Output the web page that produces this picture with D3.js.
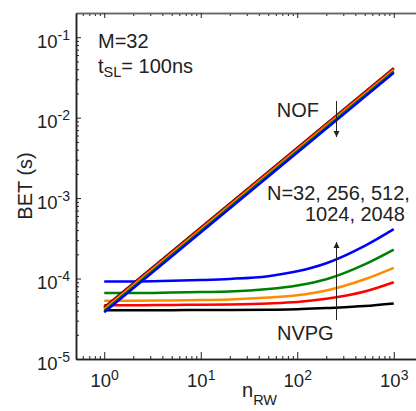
<!DOCTYPE html>
<html>
<head>
<meta charset="utf-8">
<script src="https://cdn.jsdelivr.net/npm/d3@7"></script>
<style>
  body { margin: 0; background: #fff; }
  svg text { font-family: "Liberation Sans", Arial, sans-serif; fill: #222; }
</style>
</head>
<body>
<div id="chart"></div>
<script>

var nList = ["32", "256", "512", "1024", "2048"];
var colors = ["#000000", "#ff0000", "#ff8c00", "#008000", "#0000ff"];

var nRW = [1, 2, 5, 10, 20, 50, 100, 200, 500, 1000];
var nvpg32   = [4.05e-5, 4.05e-5, 4.05e-5, 4.06e-5, 4.07e-5, 4.1e-5, 4.15e-5, 4.3e-5, 4.55e-5, 4.9e-5];
var nvpg256  = [4.65e-5, 4.65e-5, 4.7e-5, 4.72e-5, 4.77e-5, 4.9e-5, 5.1e-5, 5.6e-5, 6.9e-5, 9.0e-5];
var nvpg512  = [5.3e-5, 5.3e-5, 5.35e-5, 5.4e-5, 5.5e-5, 5.8e-5, 6.2e-5, 7.1e-5, 9.8e-5, 1.36e-4];
var nvpg1024 = [6.6e-5, 6.6e-5, 6.7e-5, 6.8e-5, 6.9e-5, 7.4e-5, 8.2e-5, 9.8e-5, 1.5e-4, 2.29e-4];
var nvpg2048 = [9.2e-5, 9.2e-5, 9.4e-5, 9.6e-5, 9.9e-5, 1.07e-4, 1.23e-4, 1.55e-4, 2.55e-4, 4.12e-4];

var nofRW = [1, 1000];
var nof32   = [4.36e-5, 0.0413];
var nof256  = [4.28e-5, 0.0405];
var nof512  = [4.12e-5, 0.0390];
var nof1024 = [3.96e-5, 0.0375];
var nof2048 = [3.80e-5, 0.0360];

var xMajor = [1, 10, 100, 1000];
var yMajor = [1e-5, 1e-4, 1e-3, 1e-2, 1e-1];

var nvpg = [nvpg32, nvpg256, nvpg512, nvpg1024, nvpg2048];
var nof = [nof32, nof256, nof512, nof1024, nof2048];

var W = 416, H = 411;
var margin = {left: 76, top: 13, bottom: 359, right: 416};

var x = d3.scaleLog().domain([0.51, 1700]).range([margin.left, margin.right]);
var y = d3.scaleLog().domain([1e-5, 0.2]).range([margin.bottom, margin.top]);

function minors(lo, hi) {
  var out = [];
  for (var e = lo; e <= hi; e++) {
    for (var k = 2; k <= 9; k++) out.push(k * Math.pow(10, e));
  }
  return out;
}
var xMinor = minors(-1, 3).filter(function(v){ return v > 0.51 && v < 1700; });
var yMinor = minors(-5, -1).filter(function(v){ return v < 0.2; });

var svg = d3.select("#chart").append("svg")
    .attr("width", W)
    .attr("height", H);

svg.append("rect").attr("width", W).attr("height", H).attr("fill", "#fff");

// axes
function styleAxis(g) {
  g.select(".domain").attr("stroke", "#222").attr("stroke-width", 1.5);
  g.selectAll(".tick line").attr("stroke", "#222").attr("stroke-width", 1);
}

var xAxisMinor = svg.append("g")
    .attr("transform", "translate(0," + margin.bottom + ")")
    .call(d3.axisBottom(x).tickValues(xMinor).tickSize(-3).tickSizeOuter(0).tickFormat(""));
styleAxis(xAxisMinor);

var xAxis = svg.append("g")
    .attr("transform", "translate(0," + margin.bottom + ")")
    .call(d3.axisBottom(x).tickValues(xMajor).tickSize(-7).tickSizeOuter(0));
styleAxis(xAxis);

xAxis.selectAll(".tick text").each(function(d) {
  var t = d3.select(this).text(null)
      .attr("y", 28).attr("dy", null)
      .attr("font-size", 18.5)
      .attr("text-anchor", "middle");
  t.append("tspan").text("10");
  t.append("tspan").attr("dy", -7).attr("font-size", 14).text(Math.round(Math.log10(d)));
});

var topMinor = svg.append("g")
    .attr("transform", "translate(0," + margin.top + ")")
    .call(d3.axisTop(x).tickValues(xMinor).tickSize(-3).tickSizeOuter(0).tickFormat(""));
styleAxis(topMinor);
topMinor.select(".domain").attr("stroke", "#666");

var topMajor = svg.append("g")
    .attr("transform", "translate(0," + margin.top + ")")
    .call(d3.axisTop(x).tickValues(xMajor).tickSize(-5).tickSizeOuter(0).tickFormat(""));
styleAxis(topMajor);
topMajor.select(".domain").attr("stroke", "#666");

var yAxisMinor = svg.append("g")
    .attr("transform", "translate(" + margin.left + ",0)")
    .call(d3.axisLeft(y).tickValues(yMinor).tickSize(-3).tickSizeOuter(0).tickFormat(""));
styleAxis(yAxisMinor);

var yAxis = svg.append("g")
    .attr("transform", "translate(" + margin.left + ",0)")
    .call(d3.axisLeft(y).tickValues(yMajor).tickSize(-5).tickSizeOuter(0));
styleAxis(yAxis);

yAxis.selectAll(".tick text").each(function(d) {
  var t = d3.select(this).text(null)
      .attr("x", -6).attr("dy", 10)
      .attr("font-size", 18.5)
      .attr("text-anchor", "end");
  t.append("tspan").text("10");
  t.append("tspan").attr("dy", -8).attr("font-size", 14).text(Math.round(Math.log10(d)));
});

// curves
var line = d3.line()
    .x(function(d) { return x(d[0]); })
    .y(function(d) { return y(d[1]); })
    .curve(d3.curveMonotoneX);

nvpg.forEach(function(s, i) {
  svg.append("path")
    .datum(nRW.map(function(n, j) { return [n, s[j]]; }))
    .attr("d", line)
    .attr("fill", "none")
    .attr("stroke", colors[i])
    .attr("stroke-width", 2.5);
});

nof.forEach(function(s, i) {
  svg.append("path")
    .datum(nofRW.map(function(n, j) { return [n, s[j]]; }))
    .attr("d", line)
    .attr("fill", "none")
    .attr("stroke", colors[i])
    .attr("stroke-width", 2.5);
});

// arrows
svg.append("defs").append("marker")
    .attr("id", "head")
    .attr("viewBox", "0 0 10 10")
    .attr("refX", 10).attr("refY", 5)
    .attr("markerWidth", 6).attr("markerHeight", 7)
    .attr("markerUnits", "userSpaceOnUse")
    .attr("orient", "auto")
  .append("path")
    .attr("d", "M0,0L10,5L0,10Z")
    .attr("fill", "#222");

var ax = Math.round(x(250)) + 0.5;
svg.append("line")
    .attr("x1", ax).attr("x2", ax)
    .attr("y1", 101).attr("y2", 137)
    .attr("stroke", "#222").attr("stroke-width", 1)
    .attr("marker-end", "url(#head)");
svg.append("line")
    .attr("x1", ax).attr("x2", ax)
    .attr("y1", 320).attr("y2", 242)
    .attr("stroke", "#222").attr("stroke-width", 1)
    .attr("marker-end", "url(#head)");

// annotations
function label(txt, px, py, anchor) {
  return svg.append("text")
    .attr("x", px).attr("y", py)
    .attr("font-size", 20)
    .attr("text-anchor", anchor || "start")
    .text(txt);
}
label("M=32", 98, 48);
var ts = label("", 98, 73);
ts.append("tspan").text("t");
ts.append("tspan").attr("dy", 4).attr("font-size", 14.5).text("SL");
ts.append("tspan").attr("dy", -4).text("= 100ns");

label("NOF", 319, 117, "end");
label("N=32, 256, 512,", 267, 200);
label("1024, 2048", 405, 221, "end");
label("NVPG", 277, 340);

var xt = label("", 242, 397);
xt.append("tspan").text("n");
xt.append("tspan").attr("dy", 8).attr("font-size", 14.5).text("RW");

svg.append("text")
    .attr("transform", "translate(32," + (margin.top + margin.bottom) / 2 + ") rotate(-90)")
    .attr("font-size", 20)
    .attr("text-anchor", "middle")
    .text("BET (s)");

</script>
</body>
</html>
